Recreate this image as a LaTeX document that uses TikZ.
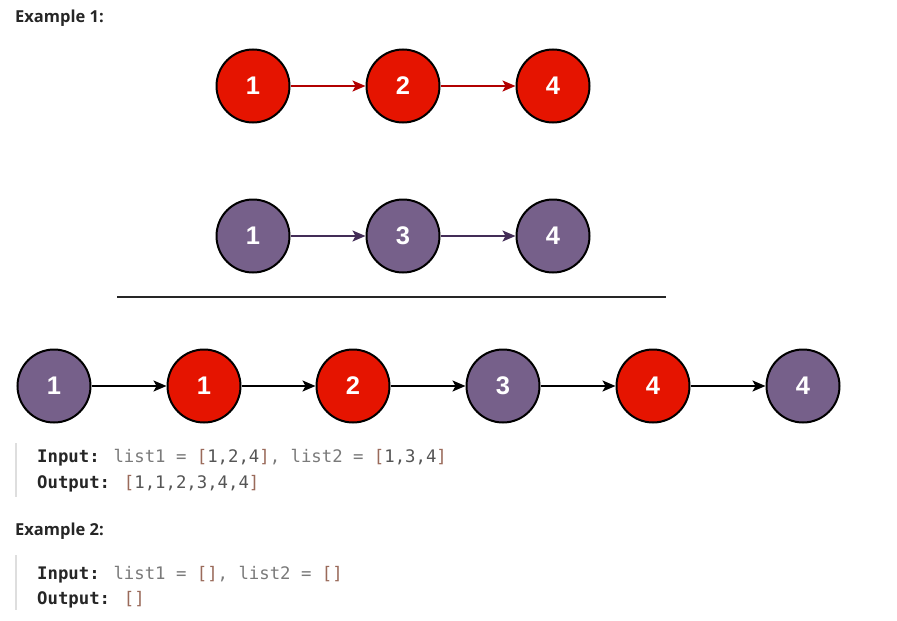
\documentclass[tikz,border=0pt]{standalone}
\usepackage{fontspec}
\setmainfont{Liberation Sans}
\newfontfamily\headfont{Open Sans}
\newfontfamily\codefont{DejaVu Sans Mono}
\usetikzlibrary{arrows.meta}
\definecolor{redfill}{HTML}{E51400}
\definecolor{purplefill}{HTML}{76608A}
\definecolor{redline}{HTML}{B20000}
\definecolor{purpleline}{HTML}{432D57}
\definecolor{codegray}{HTML}{7A7A7A}
\definecolor{codenum}{HTML}{555555}
\definecolor{codebr}{HTML}{9A6A5A}
\definecolor{keyc}{HTML}{262626}
\newcommand{\cg}[1]{\textcolor{codegray}{#1}}
\newcommand{\cn}[1]{\textcolor{codenum}{#1}}
\newcommand{\cb}[1]{\textcolor{codebr}{#1}}
\begin{document}
\begin{tikzpicture}[x=1pt,y=-1pt,
  lnode/.style={circle,draw=black,line width=2pt,minimum size=73pt,inner sep=0pt,
    text=white,font=\fontsize{25.5}{25.5}\selectfont\bfseries},
  rednode/.style={lnode,fill=redfill},
  purplenode/.style={lnode,fill=purplefill},
  link/.style={line width=1.5pt,-{Stealth[length=13pt,width=11pt,inset=3pt]}},
  heading/.style={anchor=base west,inner sep=0pt,text=keyc,font=\headfont\fontsize{16.5}{16.5}\selectfont\bfseries},
  code/.style={anchor=base west,inner sep=0pt,font=\codefont\fontsize{17.3}{17.3}\selectfont},
  bar/.style={draw=black!13,line width=2pt}]
\useasboundingbox[fill=white] (0,0) rectangle (897,621);
\node[heading] (ex1) at (15,22) {Example 1:};
% list 1
\node[rednode] (a1) at (253,86) {1};
\node[rednode] (a2) at (403,86) {2};
\node[rednode] (a3) at (553,86) {4};
\draw[link,redline] (a1) -- (a2);
\draw[link,redline] (a2) -- (a3);
% list 2
\node[purplenode] (b1) at (253,236) {1};
\node[purplenode] (b2) at (403,236) {3};
\node[purplenode] (b3) at (553,236) {4};
\draw[link,purpleline] (b1) -- (b2);
\draw[link,purpleline] (b2) -- (b3);
% separator
\coordinate (s1) at (117,297);
\coordinate (s2) at (666,297);
\draw[line width=2pt,black!85] (s1) -- (s2);
% merged
\node[purplenode] (c1) at (54,386) {1};
\node[rednode] (c2) at (204,386) {1};
\node[rednode] (c3) at (353,386) {2};
\node[purplenode] (c4) at (503,386) {3};
\node[rednode] (c5) at (653,386) {4};
\node[purplenode] (c6) at (803,386) {4};
\draw[link,black] (c1) -- (c2);
\draw[link,black] (c2) -- (c3);
\draw[link,black] (c3) -- (c4);
\draw[link,black] (c4) -- (c5);
\draw[link,black] (c5) -- (c6);
% code block 1
\coordinate (q1) at (16,443);
\coordinate (q2) at (16,497);
\draw[bar] (q1) -- (q2);
\node[code] (in1) at (37,462) {\textcolor{keyc}{\bfseries Input:} \cg{list1 = }\cb{[}\cn{1,2,4}\cb{]}\cg{, list2 = }\cb{[}\cn{1,3,4}\cb{]}};
\node[code] (out1) at (37,488) {\textcolor{keyc}{\bfseries Output:} \cb{[}\cn{1,1,2,3,4,4}\cb{]}};
% example 2
\node[heading] (ex2) at (15,535) {Example 2:};
\coordinate (r1) at (16,555);
\coordinate (r2) at (16,610);
\draw[bar] (r1) -- (r2);
\node[code] (in2) at (37,579) {\textcolor{keyc}{\bfseries Input:} \cg{list1 = }\cb{[]}\cg{, list2 = }\cb{[]}};
\node[code] (out2) at (37,604) {\textcolor{keyc}{\bfseries Output:} \cb{[]}};
\end{tikzpicture}
\end{document}
